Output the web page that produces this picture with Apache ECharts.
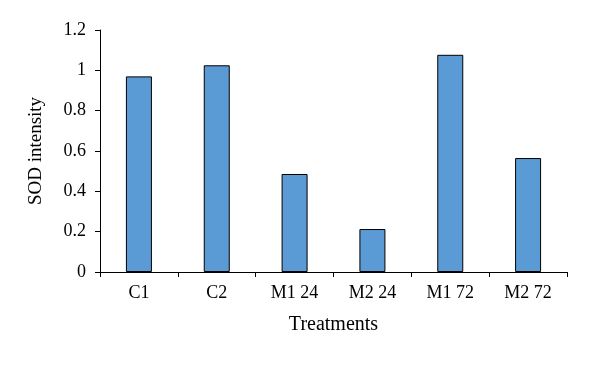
<!DOCTYPE html>
<html>
<head>
<meta charset="utf-8">
<script src="https://cdn.jsdelivr.net/npm/echarts@6/dist/echarts.min.js"></script>
<style>
html,body{margin:0;padding:0;background:#fff;}
#chart{width:608px;height:367px;}
</style>
</head>
<body>
<div id="chart"></div>
<script>
const categories = ["C1", "C2", "M1 24", "M2 24", "M1 72", "M2 72"];
const sodValues = [0.97, 1.025, 0.486, 0.213, 1.077, 0.565];
const yTicks = [0, 0.2, 0.4, 0.6, 0.8, 1, 1.2];

const font = "Liberation Serif";
const chart = echarts.init(document.getElementById('chart'), null, {renderer: 'canvas'});
chart.setOption({
  animation: false,
  backgroundColor: '#ffffff',
  grid: {left: 100, right: 41, top: 30, bottom: 95, containLabel: false},
  xAxis: {
    type: 'category',
    data: categories,
    name: 'Treatments',
    nameLocation: 'middle',
    nameGap: 43,
    nameTextStyle: {fontFamily: font, fontSize: 20, color: '#000'},
    axisLine: {lineStyle: {color: '#000', width: 1}},
    axisTick: {show: true, length: 5, lineStyle: {color: '#000'}},
    axisLabel: {fontFamily: font, fontSize: 18, color: '#000', margin: 12},
    splitLine: {show: false}
  },
  yAxis: {
    type: 'value',
    min: yTicks[0],
    max: yTicks[yTicks.length - 1],
    interval: 0.2,
    name: 'SOD intensity',
    nameLocation: 'middle',
    nameGap: 54,
    nameTextStyle: {fontFamily: font, fontSize: 19, color: '#000'},
    axisLine: {show: true, lineStyle: {color: '#000', width: 1}},
    axisTick: {show: true, length: 5, lineStyle: {color: '#000'}},
    axisLabel: {fontFamily: font, fontSize: 18, color: '#000', margin: 14,
      formatter: function (v) { return String(Math.round(v * 10) / 10); }},
    splitLine: {show: false}
  },
  series: [{
    type: 'bar',
    data: sodValues,
    barWidth: 26,
    itemStyle: {color: '#5B9BD5', borderColor: '#000', borderWidth: 1}
  }]
});
</script>
</body>
</html>
